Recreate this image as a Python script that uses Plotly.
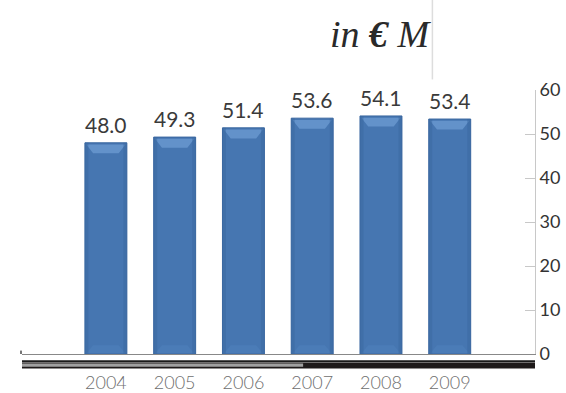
import plotly.graph_objects as go

years = [2004, 2005, 2006, 2007, 2008, 2009]
revenue = [48.0, 49.3, 51.4, 53.6, 54.1, 53.4]
y_ticks = [0, 10, 20, 30, 40, 50, 60]

BAR_W = 0.61
BAR_COLOR = "#4676b1"
EDGE_COLOR = "#3a67a0"
BEVEL_TOP = "#6e9cd3"
BEVEL_BOTTOM = "#4f80bb"
LABEL_FONT = "Lato"

fig = go.Figure()
fig.add_trace(go.Bar(
    x=years, y=revenue, width=BAR_W,
    marker=dict(color=BAR_COLOR, line=dict(color=EDGE_COLOR, width=1)),
    hoverinfo="skip",
))

shapes = []
for x, v in zip(years, revenue):
    l, r = x - BAR_W / 2, x + BAR_W / 2
    # bevel on the top face
    shapes.append(dict(
        type="path", xref="x", yref="y", layer="above",
        path=f"M {l+0.02},{v-0.4} L {r-0.02},{v-0.4} L {r-0.12},{v-2.4} L {l+0.12},{v-2.4} Z",
        fillcolor=BEVEL_TOP, opacity=0.75, line=dict(width=0),
    ))
    # bevel at the base
    shapes.append(dict(
        type="path", xref="x", yref="y", layer="above",
        path=f"M {l+0.02},0.1 L {r-0.02},0.1 L {r-0.12},2.0 L {l+0.12},2.0 Z",
        fillcolor=BEVEL_BOTTOM, opacity=0.6, line=dict(width=0),
    ))
    # darker side edges
    shapes.append(dict(
        type="rect", xref="x", yref="y", layer="above",
        x0=l, x1=l + 0.05, y0=0, y1=v,
        fillcolor=EDGE_COLOR, opacity=0.5, line=dict(width=0),
    ))
    shapes.append(dict(
        type="rect", xref="x", yref="y", layer="above",
        x0=r - 0.05, x1=r, y0=0, y1=v,
        fillcolor=EDGE_COLOR, opacity=0.5, line=dict(width=0),
    ))

# timeline band under the axis
shapes += [
    dict(type="line", xref="paper", yref="paper", x0=0, x1=1, y0=-0.027, y1=-0.027,
         line=dict(color="#1a1a1a", width=2)),
    dict(type="rect", xref="paper", yref="paper", x0=0, x1=1, y0=-0.055, y1=-0.032,
         fillcolor="#1e1a1a", line=dict(width=0)),
    dict(type="rect", xref="paper", yref="paper", x0=0, x1=0.548, y0=-0.048, y1=-0.036,
         fillcolor="#a0a0a0", line=dict(width=0)),
    # small left tick on the baseline
    dict(type="line", xref="paper", yref="paper", x0=-0.002, x1=-0.002, y0=0.0, y1=0.013,
         line=dict(color="#777777", width=2)),
    # divider next to the unit label
    dict(type="line", xref="paper", yref="paper", x0=0.8, x1=0.8, y0=1.04, y1=1.345,
         line=dict(color="#dddddd", width=1.5)),
]

annotations = [
    dict(x=x, y=v, xref="x", yref="y", text=f"{v:.1f}", showarrow=False,
         yanchor="bottom", yshift=4,
         font=dict(family=LABEL_FONT, size=21, color="#3a3a3a"))
    for x, v in zip(years, revenue)
]
annotations.append(dict(
    x=0.803, y=1.298, xref="paper", yref="paper", xanchor="right", yanchor="top",
    text="in <b>€</b> M", showarrow=False,
    font=dict(family="Liberation Serif", style="italic", size=38, color="#2a2a2a"),
))

fig.update_layout(
    width=566, height=393,
    margin=dict(l=22, r=31, t=90, b=39, autoexpand=False),
    paper_bgcolor="white", plot_bgcolor="white",
    showlegend=False, bargap=0.4,
    shapes=shapes, annotations=annotations,
    xaxis=dict(
        range=[2002.78, 2010.24], tickvals=years, ticktext=[str(y) for y in years],
        showgrid=False, zeroline=False, showline=True, linecolor="#888888", linewidth=1,
        ticks="outside", ticklen=12, tickcolor="rgba(0,0,0,0)", automargin=False,
        tickfont=dict(family=LABEL_FONT, size=18, color="#6e6e6e", weight=300),
    ),
    yaxis=dict(
        range=[0, 60], tickvals=y_ticks, side="right", automargin=False,
        showgrid=False, zeroline=False, showline=True, linecolor="#c8c8c8", linewidth=1,
        ticks="inside", ticklen=10, tickcolor="#c8c8c8",
        tickfont=dict(family=LABEL_FONT, size=18, color="#333333"),
    ),
)

fig.write_html("out.html")
